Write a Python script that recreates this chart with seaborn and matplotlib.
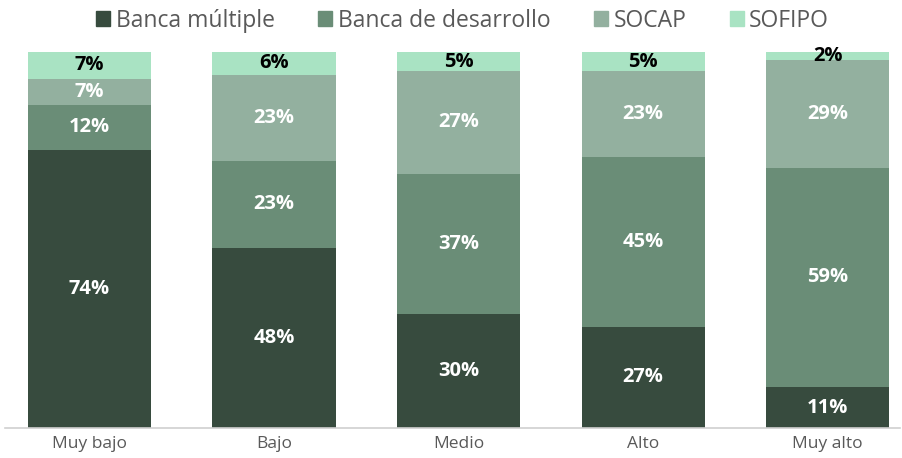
import numpy as np
import pandas as pd
import matplotlib
matplotlib.use("Agg")
import matplotlib.pyplot as plt
import seaborn as sns

categories = ["Muy bajo", "Bajo", "Medio", "Alto", "Muy alto"]
series = ["Banca múltiple", "Banca de desarrollo", "SOCAP", "SOFIPO"]
banca_multiple = [74, 48, 30, 27, 11]
banca_desarrollo = [12, 23, 37, 45, 59]
socap = [7, 23, 27, 23, 29]
sofipo = [7, 6, 5, 5, 2]

colors = ["#374b3e", "#6a8d77", "#93b09f", "#a9e3c3"]
label_colors = ["white", "white", "white", "black"]

sns.set_theme(style="white")
plt.rcParams["font.family"] = ["Open Sans", "DejaVu Sans"]

values = np.array([banca_multiple, banca_desarrollo, socap, sofipo], dtype=float)
shares = values / values.sum(axis=0) * 100  # 100% stacked
cum = np.cumsum(shares, axis=0)

fig = plt.figure(figsize=(9.02, 4.58), dpi=100)
ax = fig.add_axes([0.0055, 0.0655, 0.9925, 0.8205])

# draw cumulative totals from the top series down so each layer overlaps the previous
for i in range(len(series) - 1, -1, -1):
    df = pd.DataFrame({"cat": categories, "val": cum[i]})
    sns.barplot(data=df, x="cat", y="val", color=colors[i], saturation=1,
                width=0.667, ax=ax, label=series[i], linewidth=0, edgecolor="none")

for i in range(len(series)):
    for j in range(len(categories)):
        bottom = cum[i, j] - shares[i, j]
        ax.text(j, bottom + shares[i, j] / 2, f"{int(values[i, j])}%",
                ha="center", va="center", fontsize=14.5, fontweight="bold",
                color=label_colors[i])

ax.set_ylim(0, 100)
ax.set_xlim(-0.458, 4.393)
ax.set_xlabel("")
ax.set_ylabel("")
ax.set_yticks([])
for s in ["top", "left", "right"]:
    ax.spines[s].set_visible(False)
ax.spines["bottom"].set_color("#d0d0d0")
ax.spines["bottom"].set_linewidth(1.2)
ax.tick_params(axis="x", length=0, pad=6, labelsize=12.5, labelcolor="#595959")
if ax.get_legend() is not None:
    ax.get_legend().remove()

handles = [plt.Rectangle((0, 0), 1, 1, color=c) for c in colors]
fig.legend(handles, series, loc="center", bbox_to_anchor=(0.513, 0.955), ncol=4,
           frameon=False, fontsize=16.5, labelcolor="#595959",
           handlelength=0.6, handleheight=0.6, handletextpad=0.25, columnspacing=1.9)

fig.savefig("out.png", dpi=100)
